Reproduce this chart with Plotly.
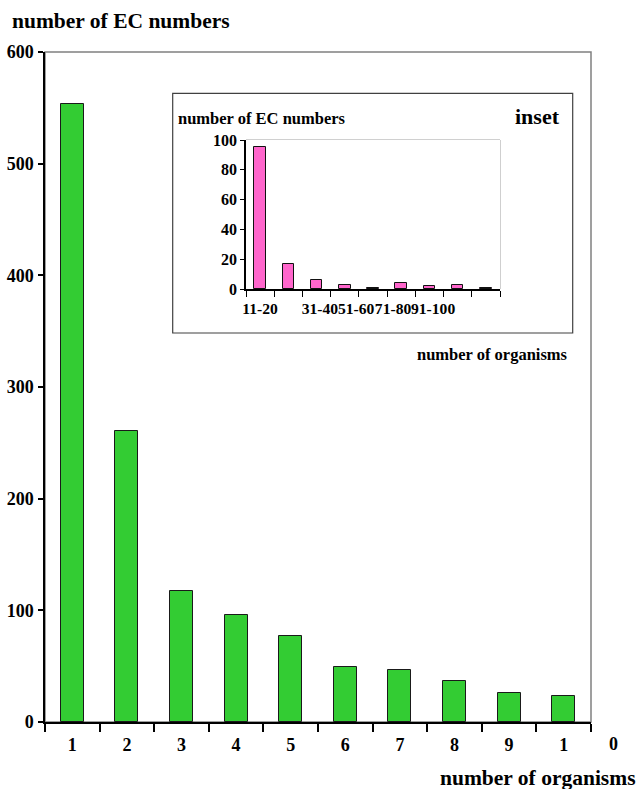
import plotly.graph_objects as go

# ---------------- data ----------------
organisms = ["1", "2", "3", "4", "5", "6", "7", "8", "9", "10"]
ec_counts = [553, 261, 117, 96, 77, 49, 47, 37, 26, 23]
main_tick_labels = ["1", "2", "3", "4", "5", "6", "7", "8", "9", "1"]
main_tick_overflow = "0"
main_y_ticks = [0, 100, 200, 300, 400, 500, 600]

inset_ranges = ["11-20", "21-30", "31-40", "41-50", "51-60",
                "61-70", "71-80", "81-90", "91-100"]
inset_counts = [95, 17, 6, 3, 1, 4, 2, 3, 1]
inset_tick_labels = ["11-20", "31-40", "51-60", "71-80", "91-100"]
inset_y_ticks = [0, 20, 40, 60, 80, 100]

# ---------------- layout constants ----------------
W, H = 639, 789
ML, MR, MT, MB = 45, 48, 52, 67
PW, PH = W - ML - MR, H - MT - MB
FONT = "Liberation Serif"


def px_x(p):
    return (p - ML) / PW


def px_y(p):
    return (H - MB - p) / PH


main_x = [i + 1 for i in range(len(organisms))]
inset_x = list(range(len(inset_ranges)))
inset_label_pos = [0, 2.12, 3.40, 4.71, 6.13]

fig = go.Figure()
fig.add_trace(go.Bar(
    x=main_x, y=ec_counts, width=0.42,
    marker=dict(color="#33CC33", line=dict(color="#1a1a1a", width=1)),
    xaxis="x", yaxis="y", showlegend=False,
))
fig.add_trace(go.Bar(
    x=inset_x, y=inset_counts, width=0.41,
    marker=dict(color="#FF66CC", line=dict(color="#111111", width=1)),
    xaxis="x2", yaxis="y2", showlegend=False,
))

bold = dict(family=FONT, color="black", weight="bold")

fig.update_layout(
    width=W, height=H,
    margin=dict(l=ML, r=MR, t=MT, b=MB, autoexpand=False),
    paper_bgcolor="white", plot_bgcolor="white",
    bargap=0,
    xaxis=dict(
        domain=[0, 1], range=[0.5, len(organisms) + 0.5],
        tickmode="array", tickvals=main_x, ticktext=main_tick_labels,
        ticks="", showgrid=False, zeroline=False, automargin=False,
        showline=True, linecolor="black", linewidth=1.5, tickangle=0,
        tickfont=dict(size=18, **bold), ticklabelstandoff=6,
        minor=dict(tickmode="array",
                   tickvals=[i + 0.5 for i in range(len(organisms) + 1)],
                   ticks="outside", ticklen=8, tickcolor="black", tickwidth=1.5),
    ),
    yaxis=dict(
        domain=[0, 1], range=[0, 600],
        tickmode="array", tickvals=main_y_ticks,
        ticks="outside", ticklen=5, tickcolor="black", tickwidth=1.5,
        showgrid=False, zeroline=False, automargin=False,
        showline=True, linecolor="black", linewidth=1.5,
        tickfont=dict(size=18, **bold), ticklabelstandoff=1,
    ),
    xaxis2=dict(
        domain=[px_x(246), px_x(500)], anchor="y2",
        range=[-0.5, len(inset_ranges) - 0.5],
        tickmode="array", tickvals=inset_label_pos, ticktext=inset_tick_labels,
        ticks="", showgrid=False, zeroline=False, automargin=False, tickangle=0,
        showline=True, linecolor="black", linewidth=1.5,
        tickfont=dict(size=15.6, **bold), ticklabelstandoff=5,
        minor=dict(tickmode="array",
                   tickvals=[i - 0.5 for i in range(len(inset_ranges) + 1)],
                   ticks="outside", ticklen=6, tickcolor="black", tickwidth=1.2),
    ),
    yaxis2=dict(
        domain=[px_y(289), px_y(140)], anchor="x2", range=[0, 100],
        tickmode="array", tickvals=inset_y_ticks,
        ticks="outside", ticklen=4, tickcolor="black", tickwidth=1.2,
        showgrid=False, zeroline=False, automargin=False,
        showline=True, linecolor="black", linewidth=1.5,
        tickfont=dict(size=16, **bold), ticklabelstandoff=0,
    ),
    shapes=[
        # main frame (top/right grey)
        dict(type="rect", xref="paper", yref="paper", x0=0, x1=1, y0=0, y1=1,
             line=dict(color="#808080", width=1.5), layer="below"),
        # inset box
        dict(type="rect", xref="paper", yref="paper",
             x0=px_x(172.7), x1=px_x(572.7), y0=px_y(333), y1=px_y(93.3),
             line=dict(color="#404040", width=1.2), layer="below"),
        # inset plot frame
        dict(type="rect", xref="x2 domain", yref="y2 domain", x0=0, x1=1, y0=0, y1=1,
             line=dict(color="#a0a0a0", width=1), layer="below"),
    ],
    annotations=[
        dict(text="number of EC numbers", xref="paper", yref="paper",
             x=px_x(10), y=px_y(21), xanchor="left", yanchor="middle",
             showarrow=False, font=dict(size=21.5, **bold)),
        dict(text="number of organisms", xref="paper", yref="paper",
             x=px_x(638), y=px_y(778), xanchor="right", yanchor="middle",
             showarrow=False, font=dict(size=21.5, **bold)),
        dict(text=main_tick_overflow, xref="paper", yref="paper",
             x=px_x(613), y=px_y(744), xanchor="center", yanchor="middle",
             showarrow=False, font=dict(size=18, **bold)),
        dict(text="number of EC numbers", xref="paper", yref="paper",
             x=px_x(176), y=px_y(119), xanchor="left", yanchor="middle",
             showarrow=False, font=dict(size=16.5, **bold)),
        dict(text="inset", xref="paper", yref="paper",
             x=px_x(562), y=px_y(117), xanchor="right", yanchor="middle",
             showarrow=False, font=dict(size=22, **bold)),
        dict(text="number of organisms", xref="paper", yref="paper",
             x=px_x(570), y=px_y(354), xanchor="right", yanchor="middle",
             showarrow=False, font=dict(size=16.5, **bold)),
    ],
)

fig.write_html("out.html",
               config={"displayModeBar": False},
               post_script="document.body.style.margin='0px';"
                           "document.body.style.overflow='hidden';")
